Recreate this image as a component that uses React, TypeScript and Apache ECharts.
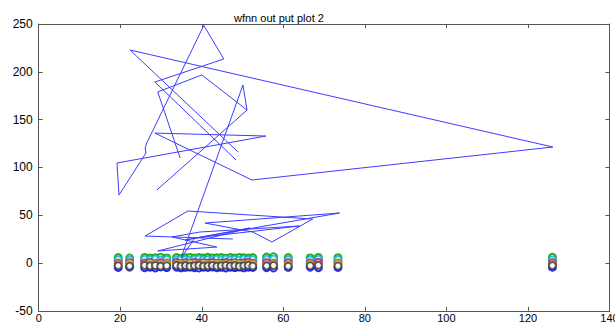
import React, { useEffect, useRef } from "react";
import * as echarts from "echarts";

// ---- data ----
const titleText = "wfnn out put plot 2";
const xTicks = { min: 0, max: 140, interval: 20 };
const yTicks = { min: -50, max: 250, interval: 50 };

// blue trajectory (null = break in the line)
const pathX: (number | null)[] = [
  48.4, 28.5, 45.4, 40.5, 26.5, 26.1, 26.3, 19.7, 19.2, 55.7, 28.5, 52.3, 126.1, 22.4, 48.9,
  null,
  29.0, 51.1, 40.0, 29.2, 34.7,
  null,
  47.6, 26.1, 36.6, 67.2, 57.2, 52.5, 40.8, 73.8, 35.9, 51.8, 29.2, 43.7, 32.7, 39.5, 64.0, 38.3, 34.9, 50.1, 51.1,
];
const pathY: (number | null)[] = [
  107.7, 189.3, 213.4, 248.5, 125.5, 120.3, 115.1, 71.1, 104.6, 132.8, 135.9, 86.8, 121.3, 222.8, 116.1,
  null,
  76.4, 160.0, 196.7, 178.9, 109.8,
  null,
  25.1, 28.2, 54.4, 46.0, 22.0, 32.4, 41.8, 52.3, 24.1, 36.6, 12.6, 16.7, 27.2, 32.4, 38.7, 26.2, 5.2, 186.2, 160.0,
];

// circle markers near zero
const circleX = [
  19.5, 22.3, 26.0, 27.3, 28.6, 29.9, 31.4, 33.8, 34.9, 36.0, 37.1, 38.2, 39.3, 40.4, 41.5, 42.6,
  43.7, 44.8, 45.9, 47.0, 48.1, 49.2, 50.3, 51.4, 52.5, 55.9, 57.6, 61.2, 66.6, 68.6, 73.4, 126.0,
];
const circleB = [-4.6, -4.2, -4.9, -4.4, -5.1, -4.1, -4.7, -4.3, -5.0, -4.5, -4.2, -4.8, -5.2, -4.4, -4.6, -4.1, -4.9, -4.5, -5.1, -4.3, -4.7, -4.2, -5.0, -4.4, -4.6, -4.8, -5.2, -4.5, -4.3, -4.9, -4.6, -4.4];
const circleG = [5.6, 5.2, 5.8, 5.1, 5.5, 5.9, 5.3, 5.7, 5.0, 5.4, 5.8, 5.2, 5.6, 5.1, 5.9, 5.3, 5.5, 5.7, 5.0, 5.6, 5.2, 5.8, 5.4, 5.1, 5.7, 6.2, 6.5, 5.6, 5.3, 5.8, 5.5, 5.9];
const circleR = [1.8, 1.2, 2.1, 1.5, 1.0, 1.9, 1.4, 2.2, 1.1, 1.6, 2.0, 1.3, 1.7, 2.3, 1.0, 1.5, 1.9, 1.2, 2.1, 1.4, 1.8, 1.1, 1.6, 2.0, 1.3, 1.7, 2.2, 1.5, 1.0, 1.9, 1.4, 1.6];
const circleC = [3.6, 3.2, 3.9, 3.4, 4.1, 3.1, 3.7, 3.3, 4.0, 3.5, 3.2, 3.8, 4.2, 3.4, 3.6, 3.1, 3.9, 3.5, 4.1, 3.3, 3.7, 3.2, 4.0, 3.4, 3.6, 3.8, 4.2, 3.5, 3.3, 3.9, 3.6, 3.4];
const circleM = [-0.4, 0.3, -0.2, 0.5, -0.6, 0.1, -0.3, 0.4, -0.5, 0.2, -0.1, 0.6, -0.4, 0.3, -0.2, 0.5, -0.6, 0.0, 0.4, -0.3, 0.2, -0.5, 0.1, 0.6, -0.2, 0.3, -0.4, 0.2, -0.1, 0.5, -0.3, 0.1];
const circleY = [-1.6, -1.3, -1.8, -1.1, -1.5, -1.9, -1.2, -1.7, -1.4, -2.0, -1.2, -1.6, -1.8, -1.1, -1.5, -1.9, -1.3, -1.7, -1.4, -2.0, -1.2, -1.6, -1.8, -1.1, -1.5, -1.9, -1.3, -1.7, -1.4, -2.0, -1.2, -1.6];
const circleK = [-2.8, -3.2, -2.5, -3.0, -2.6, -3.3, -2.9, -2.4, -3.1, -2.7, -3.4, -2.8, -2.5, -3.2, -3.0, -2.6, -3.3, -2.9, -2.4, -3.1, -2.7, -3.4, -2.8, -2.5, -3.2, -3.0, -2.6, -3.3, -2.9, -2.4, -3.1, -2.7];

const circleSeries = [
  { name: "b", color: "#0000ff", ys: circleB },
  { name: "g", color: "#00a000", ys: circleG },
  { name: "r", color: "#ff0000", ys: circleR },
  { name: "c", color: "#00bfbf", ys: circleC },
  { name: "m", color: "#bf00bf", ys: circleM },
  { name: "y", color: "#bfbf00", ys: circleY },
  { name: "k", color: "#404040", ys: circleK },
];

const FONT = "'Liberation Sans', Arial, Helvetica, sans-serif";

export default function App() {
  const ref = useRef<HTMLDivElement>(null);
  useEffect(() => {
    if (!ref.current) return;
    const chart = echarts.init(ref.current, undefined, { renderer: "svg" });
    const axisLine = { show: true, onZero: false, lineStyle: { color: "#555", width: 1 } };
    const tick = { show: true, inside: true, length: 4, lineStyle: { color: "#555" } };
    const label = { color: "#000", fontSize: 12, fontFamily: FONT };
    const lineData = pathX.map((x, i) => (x === null || pathY[i] === null ? "-" : [x, pathY[i]]));
    chart.setOption({
      animation: false,
      backgroundColor: "#fff",
      title: {
        text: titleText,
        left: 229,
        top: 7,
        textStyle: { fontSize: 11, fontWeight: "normal", color: "#000", fontFamily: FONT },
      },
      grid: {
        left: 38.7, right: 5.5, top: 24, bottom: 13.2,
        containLabel: false, outerBoundsMode: "none",
      },
      xAxis: [
        {
          type: "value", ...xTicks, position: "bottom",
          axisLine, axisTick: tick, splitLine: { show: false },
          axisLabel: { ...label, fontSize: 11, lineHeight: 11, margin: 2 },
        },
        {
          type: "value", ...xTicks, position: "top",
          axisLine, axisTick: tick, splitLine: { show: false },
          axisLabel: { show: false },
        },
      ],
      yAxis: [
        {
          type: "value", ...yTicks, position: "left",
          axisLine, axisTick: tick, splitLine: { show: false },
          axisLabel: { ...label, margin: 6 },
        },
        {
          type: "value", ...yTicks, position: "right",
          axisLine, axisTick: tick, splitLine: { show: false },
          axisLabel: { show: false },
        },
      ],
      series: [
        {
          type: "line",
          name: "trajectory",
          data: lineData,
          showSymbol: false,
          symbol: "none",
          connectNulls: false,
          lineStyle: { color: "#3c3cff", width: 1 },
          xAxisIndex: 0,
          yAxisIndex: 0,
        },
        ...circleSeries.map((s) => ({
          type: "scatter",
          name: s.name,
          data: circleX.map((x, i) => [x, s.ys[i]]),
          symbol: "emptyCircle",
          symbolSize: 7,
          itemStyle: { color: s.color, borderColor: s.color, borderWidth: 1.2, opacity: 0.85 },
          xAxisIndex: 0,
          yAxisIndex: 0,
        })),
      ],
    });
    return () => chart.dispose();
  }, []);
  return (
    <div
      ref={ref}
      style={{ position: "fixed", left: 0, top: 0, width: 615, height: 324, background: "#fff" }}
    />
  );
}
